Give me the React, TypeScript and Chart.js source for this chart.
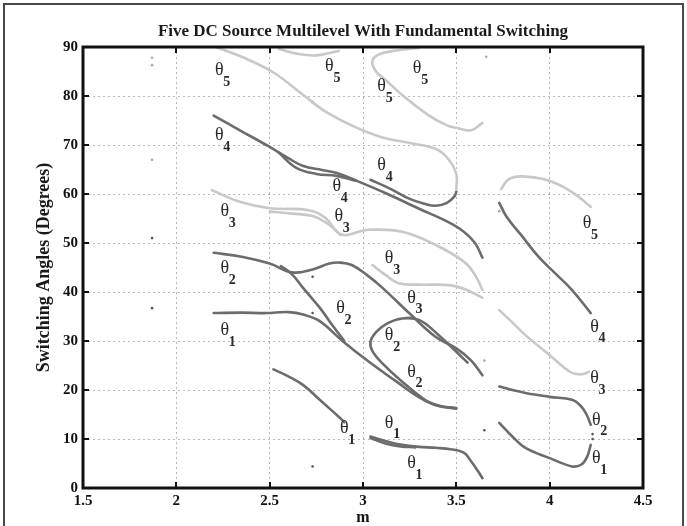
import React, { useEffect, useRef } from "react";
import { Chart, registerables } from "chart.js";

Chart.register(...registerables);

type Pt = [number, number];

const TITLE = "Five DC Source Multilevel With Fundamental Switching";
const X_TITLE = "m";
const Y_TITLE = "Switching Angles (Degrees)";
const xTicks = [1.5, 2, 2.5, 3, 3.5, 4, 4.5];
const yTicks = [0, 10, 20, 30, 40, 50, 60, 70, 80, 90];

// dark curves (m, degrees)
const darkTheta4Main: Pt[] = [[2.2, 76], [2.35, 72.8], [2.5, 69.6], [2.6, 67.3], [2.68, 65.7], [2.78, 64.9], [2.86, 64.3], [2.96, 62.8], [3.12, 60.2], [3.3, 57], [3.45, 54.4], [3.54, 52.3], [3.6, 50], [3.64, 47]];
const darkTheta4Lens: Pt[] = [[2.55, 68.4], [2.64, 65.4], [2.75, 64.1], [2.86, 63.7], [2.96, 62.7]];
const darkTheta4Right: Pt[] = [[3.04, 62.9], [3.15, 61], [3.25, 59], [3.33, 58], [3.39, 57.6], [3.45, 58.2], [3.49, 59.5], [3.5, 60.5]];
const darkTheta4Far: Pt[] = [[3.73, 58.2], [3.77, 55.3], [3.85, 51.5], [3.94, 47.2], [4.03, 43.8], [4.12, 40.4], [4.22, 35.7]];
const darkTheta2Bump: Pt[] = [[2.2, 48], [2.35, 47.2], [2.5, 45.8], [2.62, 44], [2.73, 44.6], [2.82, 45.8], [2.88, 46], [2.94, 45.5], [3.02, 43.5], [3.1, 41], [3.25, 35.6], [3.39, 30.8], [3.5, 28.5], [3.58, 26], [3.64, 23]];
const darkTheta2Branch: Pt[] = [[2.56, 45.3], [2.62, 43.6], [2.68, 40.8], [2.77, 36.7], [2.84, 33], [2.9, 30]];
const darkTheta1Main: Pt[] = [[2.2, 35.7], [2.35, 35.8], [2.48, 35.7], [2.6, 35.9], [2.68, 35.4], [2.77, 34], [2.89, 30], [3.03, 25.8], [3.18, 21.7], [3.28, 19], [3.39, 16.9], [3.5, 16.3]];
const darkLoop: Pt[] = [[3.5, 16.2], [3.42, 16.7], [3.34, 17.8], [3.21, 21.7], [3.1, 25.6], [3.05, 28], [3.04, 29.8], [3.07, 31.8], [3.13, 33.6], [3.21, 34.6], [3.3, 34.3], [3.4, 31.4], [3.5, 27.8], [3.56, 25.6]];
const darkTheta1Low: Pt[] = [[2.52, 24.2], [2.6, 22.8], [2.68, 21], [2.78, 17.6], [2.88, 14.2], [2.9, 13.4]];
const darkTheta1Mid: Pt[] = [[3.04, 10.5], [3.12, 9.6], [3.21, 8.8], [3.3, 8.4], [3.39, 8.2], [3.47, 7.9], [3.54, 7.2], [3.58, 5.4], [3.62, 3.2], [3.64, 2]];
const darkTheta1Mid2: Pt[] = [[3.04, 10.2], [3.12, 9.1], [3.2, 8.5], [3.28, 8.3]];
const darkTheta2Far: Pt[] = [[3.73, 20.7], [3.8, 20], [3.87, 19.4], [4.0, 18.6], [4.12, 18], [4.17, 16.6], [4.2, 14.8], [4.22, 12.9]];
const darkTheta1Far: Pt[] = [[3.73, 13.3], [3.8, 10.5], [3.87, 8.2], [4.0, 6.1], [4.12, 4.4], [4.17, 4.8], [4.2, 6.3], [4.22, 8.8]];

// light curves
const lightTheta5A: Pt[] = [[2.21, 90], [2.35, 88], [2.52, 84.8], [2.68, 80.2], [2.8, 76.8], [2.95, 73.8], [3.1, 71.6], [3.25, 70.4], [3.39, 69.2], [3.46, 67], [3.5, 64], [3.5, 61]];
const lightTop: Pt[] = [[2.55, 89.6], [2.65, 88.6], [2.75, 88.3], [2.87, 89.2]];
const lightTheta5B: Pt[] = [[3.3, 89.8], [3.18, 89.3], [3.08, 88.4], [3.05, 87], [3.07, 85], [3.12, 83.3], [3.21, 80.2], [3.35, 76.1], [3.45, 74], [3.51, 73.4], [3.58, 73], [3.64, 74.5]];
const lightTheta5Far: Pt[] = [[3.74, 61], [3.78, 63], [3.85, 63.6], [3.99, 62.8], [4.12, 60.4], [4.22, 57.4]];
const lightTheta3A: Pt[] = [[2.19, 60.8], [2.34, 58.4], [2.5, 57.1], [2.71, 56.7], [2.8, 55.1], [2.86, 52.3], [2.9, 51.6], [2.96, 52.1], [3.03, 52.7], [3.21, 52.3], [3.39, 49.6], [3.54, 46.2], [3.6, 43.5], [3.64, 40.4]];
const lightTheta3Lens: Pt[] = [[2.5, 56.4], [2.62, 56], [2.73, 55.5], [2.82, 53.7], [2.88, 51.6]];
const lightTheta3Mid: Pt[] = [[3.05, 45.5], [3.12, 43.5], [3.19, 41.8], [3.3, 41.5], [3.46, 41.4], [3.55, 40.5], [3.64, 38.8]];
const lightTheta3Far: Pt[] = [[3.73, 36.3], [3.8, 33.8], [3.87, 31.2], [4.0, 27.1], [4.08, 24.5], [4.12, 23.5], [4.17, 23.2], [4.21, 23.7]];

const lightDots: Pt[] = [[1.87, 87.8], [1.87, 86.3], [1.87, 67], [2.73, 78.8], [3.66, 88], [3.65, 26], [3.73, 56.5]];
const darkDots: Pt[] = [[1.87, 51], [1.87, 36.7], [2.73, 4.4], [2.73, 35.7], [2.73, 43.1], [3.65, 11.8], [4.23, 11], [4.23, 10]];

// theta labels: m, degrees, subscript
const thetaLabels: [number, number, string][] = [
  [2.23, 85.3, "5"], [2.82, 86, "5"], [3.1, 81.9, "5"], [3.29, 85.7, "5"], [4.2, 54, "5"],
  [2.23, 72, "4"], [2.86, 61.5, "4"], [3.1, 65.9, "4"], [4.24, 32.9, "4"],
  [2.26, 56.4, "3"], [2.87, 55.4, "3"], [3.14, 46.9, "3"], [3.26, 38.8, "3"], [4.24, 22.4, "3"],
  [2.26, 44.9, "2"], [2.88, 36.7, "2"], [3.14, 31.2, "2"], [3.26, 23.7, "2"], [4.25, 13.9, "2"],
  [2.26, 32.2, "1"], [2.9, 12.2, "1"], [3.14, 13.3, "1"], [3.26, 5.1, "1"], [4.25, 6.1, "1"],
];

const DARK = "#6c6c6c";
const LIGHT = "#c8c8c8";
const SERIF = "'Liberation Serif', 'DejaVu Serif', serif";

const darkCurves: Pt[][] = [darkTheta4Main, darkTheta4Lens, darkTheta4Right, darkTheta4Far, darkTheta2Bump, darkTheta2Branch, darkTheta1Main, darkLoop, darkTheta1Low, darkTheta1Mid, darkTheta1Mid2, darkTheta2Far, darkTheta1Far];
const lightCurves: Pt[][] = [lightTheta5A, lightTop, lightTheta5B, lightTheta5Far, lightTheta3A, lightTheta3Lens, lightTheta3Mid, lightTheta3Far];

const toXY = (pts: Pt[]) => pts.map(([x, y]) => ({ x, y }));

const decorPlugin = {
  id: "decor",
  afterDatasetsDraw(chart: any) {
    const { ctx, scales } = chart;
    const xs = scales.x, ys = scales.y;
    ctx.save();
    ctx.fillStyle = "#2a2a2a";
    for (const [m, d, sub] of thetaLabels) {
      const px = xs.getPixelForValue(m);
      const py = ys.getPixelForValue(d);
      ctx.font = `18px ${SERIF}`;
      ctx.textAlign = "center";
      ctx.textBaseline = "middle";
      ctx.fillText("\u03B8", px, py);
      ctx.font = `bold 14px ${SERIF}`;
      ctx.textAlign = "left";
      ctx.fillText(sub, px + 4, py + 12);
    }
    ctx.restore();
  },
  afterDraw(chart: any) {
    const { ctx, chartArea: a, scales } = chart;
    const xs = scales.x, ys = scales.y;
    ctx.save();
    ctx.strokeStyle = "#111";
    ctx.lineWidth = 3;
    ctx.strokeRect(a.left, a.top, a.right - a.left, a.bottom - a.top);
    ctx.lineWidth = 2;
    ctx.beginPath();
    for (const v of xTicks.slice(1, -1)) {
      const px = Math.round(xs.getPixelForValue(v));
      ctx.moveTo(px, a.bottom); ctx.lineTo(px, a.bottom - 6);
      ctx.moveTo(px, a.top); ctx.lineTo(px, a.top + 6);
    }
    for (const v of yTicks.slice(1, -1)) {
      const py = Math.round(ys.getPixelForValue(v));
      ctx.moveTo(a.left, py); ctx.lineTo(a.left + 6, py);
      ctx.moveTo(a.right, py); ctx.lineTo(a.right - 6, py);
    }
    ctx.stroke();
    ctx.fillStyle = "#1a1a1a";
    ctx.font = `bold 17px ${SERIF}`;
    ctx.textAlign = "center";
    ctx.textBaseline = "middle";
    ctx.fillText(TITLE, (a.left + a.right) / 2, 32);
    ctx.strokeStyle = "#4a4a4a";
    ctx.lineWidth = 2;
    ctx.strokeRect(4, 4, chart.width - 8, chart.height + 20);
    ctx.restore();
  },
};

export default function App() {
  const ref = useRef<HTMLCanvasElement | null>(null);
  useEffect(() => {
    if (!ref.current) return;
    const datasets: any[] = [];
    for (const c of lightCurves) {
      datasets.push({ data: toXY(c), showLine: true, borderColor: LIGHT, borderWidth: 2.6, pointRadius: 0, tension: 0.4, borderCapStyle: "round" });
    }
    for (const c of darkCurves) {
      datasets.push({ data: toXY(c), showLine: true, borderColor: DARK, borderWidth: 2.6, pointRadius: 0, tension: 0.4, borderCapStyle: "round" });
    }
    datasets.push({ data: toXY(lightDots), showLine: false, pointRadius: 1.3, pointBorderWidth: 0, pointBackgroundColor: "#aaaaaa" });
    datasets.push({ data: toXY(darkDots), showLine: false, pointRadius: 1.3, pointBorderWidth: 0, pointBackgroundColor: "#555555" });

    const tickFont = { family: SERIF, size: 15, weight: "bold" as const };
    const chart = new Chart(ref.current, {
      type: "scatter",
      data: { datasets },
      options: {
        animation: false,
        responsive: true,
        maintainAspectRatio: false,
        layout: { padding: { top: 47, right: 44, bottom: 0, left: 0 } },
        plugins: { legend: { display: false }, tooltip: { enabled: false }, title: { display: false } },
        scales: {
          x: {
            type: "linear",
            min: 1.5,
            max: 4.5,
            afterBuildTicks: (s: any) => { s.ticks = xTicks.map((v) => ({ value: v })); },
            afterFit: (s: any) => { s.height = 38; },
            ticks: { font: tickFont, color: "#111", padding: 4, maxRotation: 0, autoSkip: false, callback: (v: any) => String(v) },
            grid: { color: "#b8b8b8", lineWidth: 1, drawTicks: false },
            border: { display: false, dash: [2, 3] },
            title: { display: true, text: X_TITLE, font: { family: SERIF, size: 16, weight: "bold" }, color: "#111", padding: { top: 0, bottom: -1 } },
          },
          y: {
            type: "linear",
            min: 0,
            max: 90,
            afterBuildTicks: (s: any) => { s.ticks = yTicks.map((v) => ({ value: v })); },
            afterFit: (s: any) => { s.width = 83; },
            ticks: { font: tickFont, color: "#111", padding: 5, autoSkip: false },
            grid: { color: "#b8b8b8", lineWidth: 1, drawTicks: false },
            border: { display: false, dash: [2, 3] },
            title: { display: true, text: Y_TITLE, font: { family: SERIF, size: 18, weight: "bold" }, color: "#1a1a1a", padding: { top: 34, bottom: 0 } },
          },
        },
      },
      plugins: [decorPlugin],
    });
    return () => chart.destroy();
  }, []);

  return (
    <div style={{ position: "fixed", left: 0, top: 0, width: 687, height: 526, background: "#fff" }}>
      <canvas ref={ref} />
    </div>
  );
}
